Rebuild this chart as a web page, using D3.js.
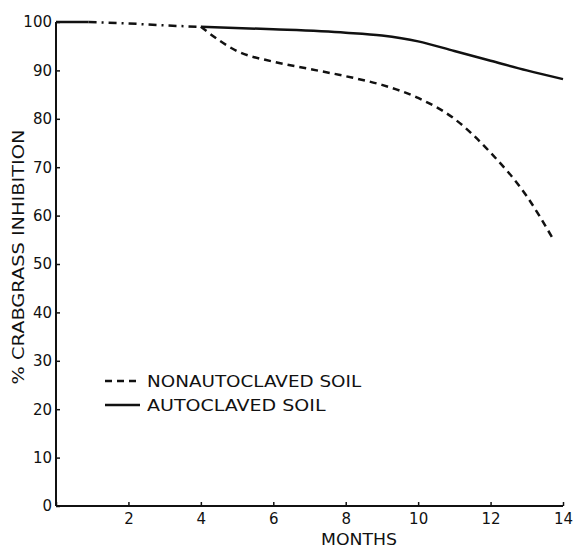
<!DOCTYPE html>
<html>
<head>
<meta charset="utf-8">
<script src="https://cdn.jsdelivr.net/npm/d3@7.9.0/dist/d3.min.js"></script>
<style>
  body { margin: 0; background: #fff; }
  text { font-family: "DejaVu Sans", sans-serif; fill: #111; }
</style>
</head>
<body>
<svg id="chart" width="573" height="548"></svg>
<script>
// values
const months = [0, 2, 4, 6, 8, 10, 12, 14];
const yTicks = [0, 10, 20, 30, 40, 50, 60, 70, 80, 90, 100];

// shared early part (before the two treatments split)
const commonSolid = [[0, 100], [0.9, 100]];
const commonDashDot = [[0.9, 100], [2, 99.7], [3, 99.3], [4, 99]];

const autoclaved = [[4, 99], [6, 98.5], [8, 97.8], [9, 97.2], [10, 96], [11, 94], [12, 92], [13, 90], [14, 88.2]];
const nonautoclaved = [[4, 99], [5, 94], [6, 91.8], [7, 90.3], [8, 88.8], [9, 87], [10, 84.3], [11, 80], [12, 73], [13, 64], [13.7, 55.5]];

const legendItems = [
  { label: "NONAUTOCLAVED SOIL", dash: "7,5" },
  { label: "AUTOCLAVED SOIL", dash: null }
];

const svg = d3.select("#chart");

const x = d3.scaleLinear().domain([0, 14]).range([56, 563]);
const y = d3.scaleLinear().domain([0, 100]).range([506, 22]);

// axes
const xAxis = d3.axisBottom(x).tickValues(months).tickSize(-4).tickFormat(d => d === 0 ? "" : d);
const yAxis = d3.axisLeft(y).tickValues(yTicks).tickSize(-4);

const gx = svg.append("g").attr("transform", `translate(0,${y(0)})`).call(xAxis);
const gy = svg.append("g").attr("transform", `translate(${x(0)},0)`).call(yAxis);

[gx, gy].forEach(g => {
  g.select(".domain").attr("stroke", "#111").attr("stroke-width", 2);
  g.selectAll(".tick line").attr("stroke", "#111").attr("stroke-width", 1.5);
  g.selectAll(".tick text").attr("font-size", 15).attr("fill", "#111")
    .attr("font-family", "DejaVu Sans, sans-serif");
});
gx.selectAll(".tick text").attr("dy", "0.9em").attr("y", 4);
gy.selectAll(".tick text").attr("x", -4);
// remove the end caps of the default domain path
gx.select(".domain").attr("d", `M${x(0)},0H${x(14)}`);
gy.select(".domain").attr("d", `M0,${y(0)}V${y(100)}`);

// axis titles
svg.append("text")
  .attr("x", 359).attr("y", 545)
  .attr("text-anchor", "middle")
  .attr("font-size", 15)
  .attr("textLength", 76).attr("lengthAdjust", "spacingAndGlyphs")
  .text("MONTHS");

svg.append("text")
  .attr("transform", "translate(24,257) rotate(-90)")
  .attr("text-anchor", "middle")
  .attr("font-size", 15)
  .attr("textLength", 255).attr("lengthAdjust", "spacingAndGlyphs")
  .text("% CRABGRASS INHIBITION");

// lines
const line = d3.line().x(d => x(d[0])).y(d => y(d[1])).curve(d3.curveMonotoneX);

svg.append("path").datum(commonSolid).attr("d", line)
  .attr("fill", "none").attr("stroke", "#111").attr("stroke-width", 2.5);
svg.append("path").datum(commonDashDot).attr("d", line)
  .attr("fill", "none").attr("stroke", "#111").attr("stroke-width", 2.5)
  .attr("stroke-dasharray", "8,5,2,5");

svg.append("path").datum(autoclaved).attr("d", line)
  .attr("fill", "none").attr("stroke", "#111").attr("stroke-width", 2.5);
svg.append("path").datum(nonautoclaved).attr("d", line)
  .attr("fill", "none").attr("stroke", "#111").attr("stroke-width", 2.5)
  .attr("stroke-dasharray", "7,5");

// legend
const lg = svg.append("g");
legendItems.forEach((d, i) => {
  const yy = 381 + i * 24;
  lg.append("line")
    .attr("x1", 105).attr("x2", 140).attr("y1", yy).attr("y2", yy)
    .attr("stroke", "#111").attr("stroke-width", 2.5)
    .attr("stroke-dasharray", d.dash);
  lg.append("text")
    .attr("x", 147).attr("y", yy + 6)
    .attr("font-size", 16)
    .attr("textLength", d.label.length * 11.9).attr("lengthAdjust", "spacingAndGlyphs")
    .text(d.label);
});
</script>
</body>
</html>
